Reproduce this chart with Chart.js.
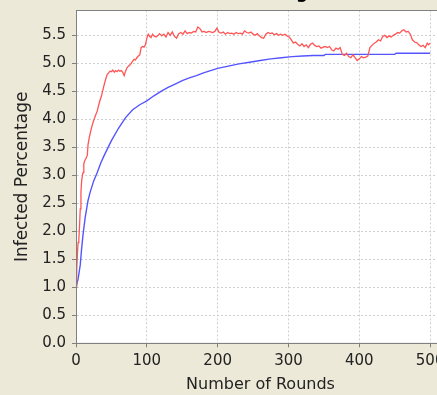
<!DOCTYPE html>
<html>
<head>
<meta charset="utf-8">
<script src="https://cdn.jsdelivr.net/npm/chart.js@4/dist/chart.umd.min.js"></script>
<style>
  html, body { margin: 0; padding: 0; background: #ECE9D8; overflow: hidden; width: 437px; height: 395px; }
  #wrap { position: absolute; left: 0; top: -30px; width: 460px; height: 432px; }
</style>
</head>
<body>
<div id="wrap"><canvas id="c"></canvas></div>
<script>
// ---- data ----
const chartTitle = "Infected Percentage";
const xTitle = "Number of Rounds";
const yTitle = "Infected Percentage";

const redRounds = [0,1,2,3,4,5,6,7,8,9,10,11,12,14,16,17,19,21,23,25,27,30,33,36,39,42,44,46,48,50,52,54,56,58,60,62,64,66,68,70,72,74,76,78,80,82,84,86,88,90,92,94,96,98,100,102,104,106,108,110,113,116,118,121,124,127,130,133,136,139,142,145,148,151,154,157,160,163,166,169,172,175,178,181,184,187,190,193,196,199,202,205,208,211,214,217,220,223,226,229,232,235,238,241,244,247,250,253,256,259,262,265,268,271,274,277,280,283,286,289,292,295,298,301,304,307,310,313,316,319,322,325,328,331,334,337,340,343,346,349,352,355,358,361,364,367,370,373,376,379,382,385,388,391,394,397,400,403,406,409,412,415,418,421,424,427,430,433,436,439,442,445,448,451,454,457,460,463,466,469,472,475,478,481,484,487,490,493,496,498,500];
const redValues = [1.00,1.30,1.60,1.80,1.85,2.10,2.40,2.70,2.90,3.00,3.05,3.20,3.25,3.30,3.36,3.55,3.69,3.80,3.90,3.98,4.05,4.15,4.30,4.42,4.58,4.72,4.80,4.83,4.86,4.85,4.88,4.84,4.87,4.85,4.88,4.86,4.87,4.84,4.78,4.86,4.92,4.95,4.97,5.00,5.04,5.07,5.06,5.10,5.13,5.15,5.28,5.30,5.29,5.33,5.45,5.52,5.48,5.46,5.52,5.49,5.47,5.50,5.53,5.49,5.52,5.47,5.55,5.50,5.56,5.48,5.45,5.53,5.55,5.52,5.58,5.53,5.55,5.54,5.57,5.56,5.65,5.62,5.56,5.57,5.55,5.57,5.56,5.55,5.57,5.63,5.55,5.54,5.56,5.52,5.55,5.53,5.54,5.52,5.55,5.53,5.54,5.52,5.58,5.55,5.54,5.56,5.52,5.50,5.53,5.49,5.46,5.45,5.52,5.55,5.53,5.54,5.51,5.53,5.50,5.52,5.50,5.52,5.49,5.47,5.42,5.36,5.38,5.34,5.31,5.35,5.30,5.33,5.28,5.34,5.36,5.32,5.30,5.31,5.27,5.29,5.30,5.28,5.30,5.24,5.22,5.27,5.25,5.28,5.16,5.14,5.18,5.12,5.10,5.15,5.10,5.05,5.08,5.12,5.10,5.11,5.13,5.28,5.32,5.36,5.38,5.42,5.40,5.48,5.50,5.46,5.49,5.47,5.50,5.52,5.55,5.54,5.58,5.60,5.56,5.57,5.52,5.42,5.38,5.37,5.33,5.30,5.32,5.28,5.36,5.33,5.36];

const blueRounds = [0,3,6,8,10,13,17,20,25,30,35,40,50,60,70,80,90,100,110,120,130,140,150,160,170,180,190,200,215,230,245,260,275,290,305,320,335,350,352,380,420,450,452,500];
const blueValues = [1.00,1.15,1.40,1.70,1.95,2.25,2.55,2.70,2.90,3.05,3.22,3.36,3.62,3.84,4.03,4.17,4.26,4.33,4.42,4.50,4.57,4.63,4.69,4.74,4.78,4.83,4.87,4.91,4.95,4.99,5.02,5.05,5.08,5.10,5.12,5.13,5.14,5.14,5.16,5.16,5.16,5.16,5.18,5.18];

const xTickStep = 100;
const yTickStep = 0.5;

function pairs(xs, ys) { return xs.map((x, i) => ({x: x, y: ys[i]})); }
function onStep(v, step) { return Math.abs(Math.round(v / step) * step - v) < 1e-6; }

const plotBg = {
  id: 'plotBg',
  beforeDraw(chart) {
    const {ctx, chartArea: a} = chart;
    ctx.save();
    ctx.fillStyle = '#ECE9D8';
    ctx.fillRect(0, 0, chart.width, chart.height);
    ctx.fillStyle = '#ffffff';
    ctx.fillRect(a.left, a.top, a.right - a.left, a.bottom - a.top);
    ctx.restore();
  },
  afterDraw(chart) {
    const {ctx, chartArea: a} = chart;
    ctx.save();
    ctx.strokeStyle = '#808080';
    ctx.lineWidth = 1;
    ctx.strokeRect(Math.round(a.left) + 0.5, Math.round(a.top) + 0.5, a.right - a.left, a.bottom - a.top);
    ctx.restore();
  }
};

const tickFont = {family: 'DejaVu Sans', size: 15};

new Chart(document.getElementById('c'), {
  type: 'line',
  data: {
    datasets: [
      { data: pairs(redRounds, redValues), borderColor: 'rgb(255,85,85)', borderWidth: 1.3, pointRadius: 0, tension: 0 },
      { data: pairs(blueRounds, blueValues), borderColor: 'rgb(85,85,255)', borderWidth: 1.4, pointRadius: 0, tension: 0 }
    ]
  },
  options: {
    responsive: true,
    maintainAspectRatio: false,
    devicePixelRatio: 1,
    animation: false,
    layout: { padding: { left: 0, right: 15, top: 0, bottom: 0 } },
    plugins: {
      legend: { display: false },
      tooltip: { enabled: false },
      title: {
        display: true, text: chartTitle, color: '#000',
        font: { family: 'DejaVu Sans', size: 17, weight: 'bold' },
        padding: { top: 13, bottom: 7 }
      }
    },
    scales: {
      x: {
        type: 'linear', min: 0, max: 521,
        afterBuildTicks(s) { s.ticks = s.ticks.filter(t => onStep(t.value, xTickStep)); },
        afterFit(s) { s.height = 58.7; },
        ticks: { stepSize: xTickStep, includeBounds: false, font: tickFont, color: '#222', padding: 5, maxRotation: 0, autoSkip: false },
        grid: { color: '#cfcfcf', tickColor: '#808080', tickLength: 4, lineWidth: 1 },
        border: { color: '#808080', dash: [2, 2] },
        title: { display: true, text: xTitle, color: '#222', font: { family: 'DejaVu Sans', size: 16 }, padding: { top: 0, bottom: 8 } }
      },
      y: {
        type: 'linear', min: 0, max: 5.945,
        afterBuildTicks(s) { s.ticks = s.ticks.filter(t => onStep(t.value, yTickStep)); },
        afterFit(s) { s.width = 76; },
        ticks: { stepSize: yTickStep, includeBounds: false, font: tickFont, color: '#222', padding: 6, callback: v => Number(v).toFixed(1) },
        grid: { color: '#cfcfcf', tickColor: '#808080', tickLength: 4, lineWidth: 1 },
        border: { color: '#808080', dash: [2, 2] },
        title: { display: true, text: yTitle, color: '#222', font: { family: 'DejaVu Sans', size: 17 }, padding: { top: 12, bottom: 0 } }
      }
    }
  },
  plugins: [plotBg]
});
</script>
</body>
</html>
